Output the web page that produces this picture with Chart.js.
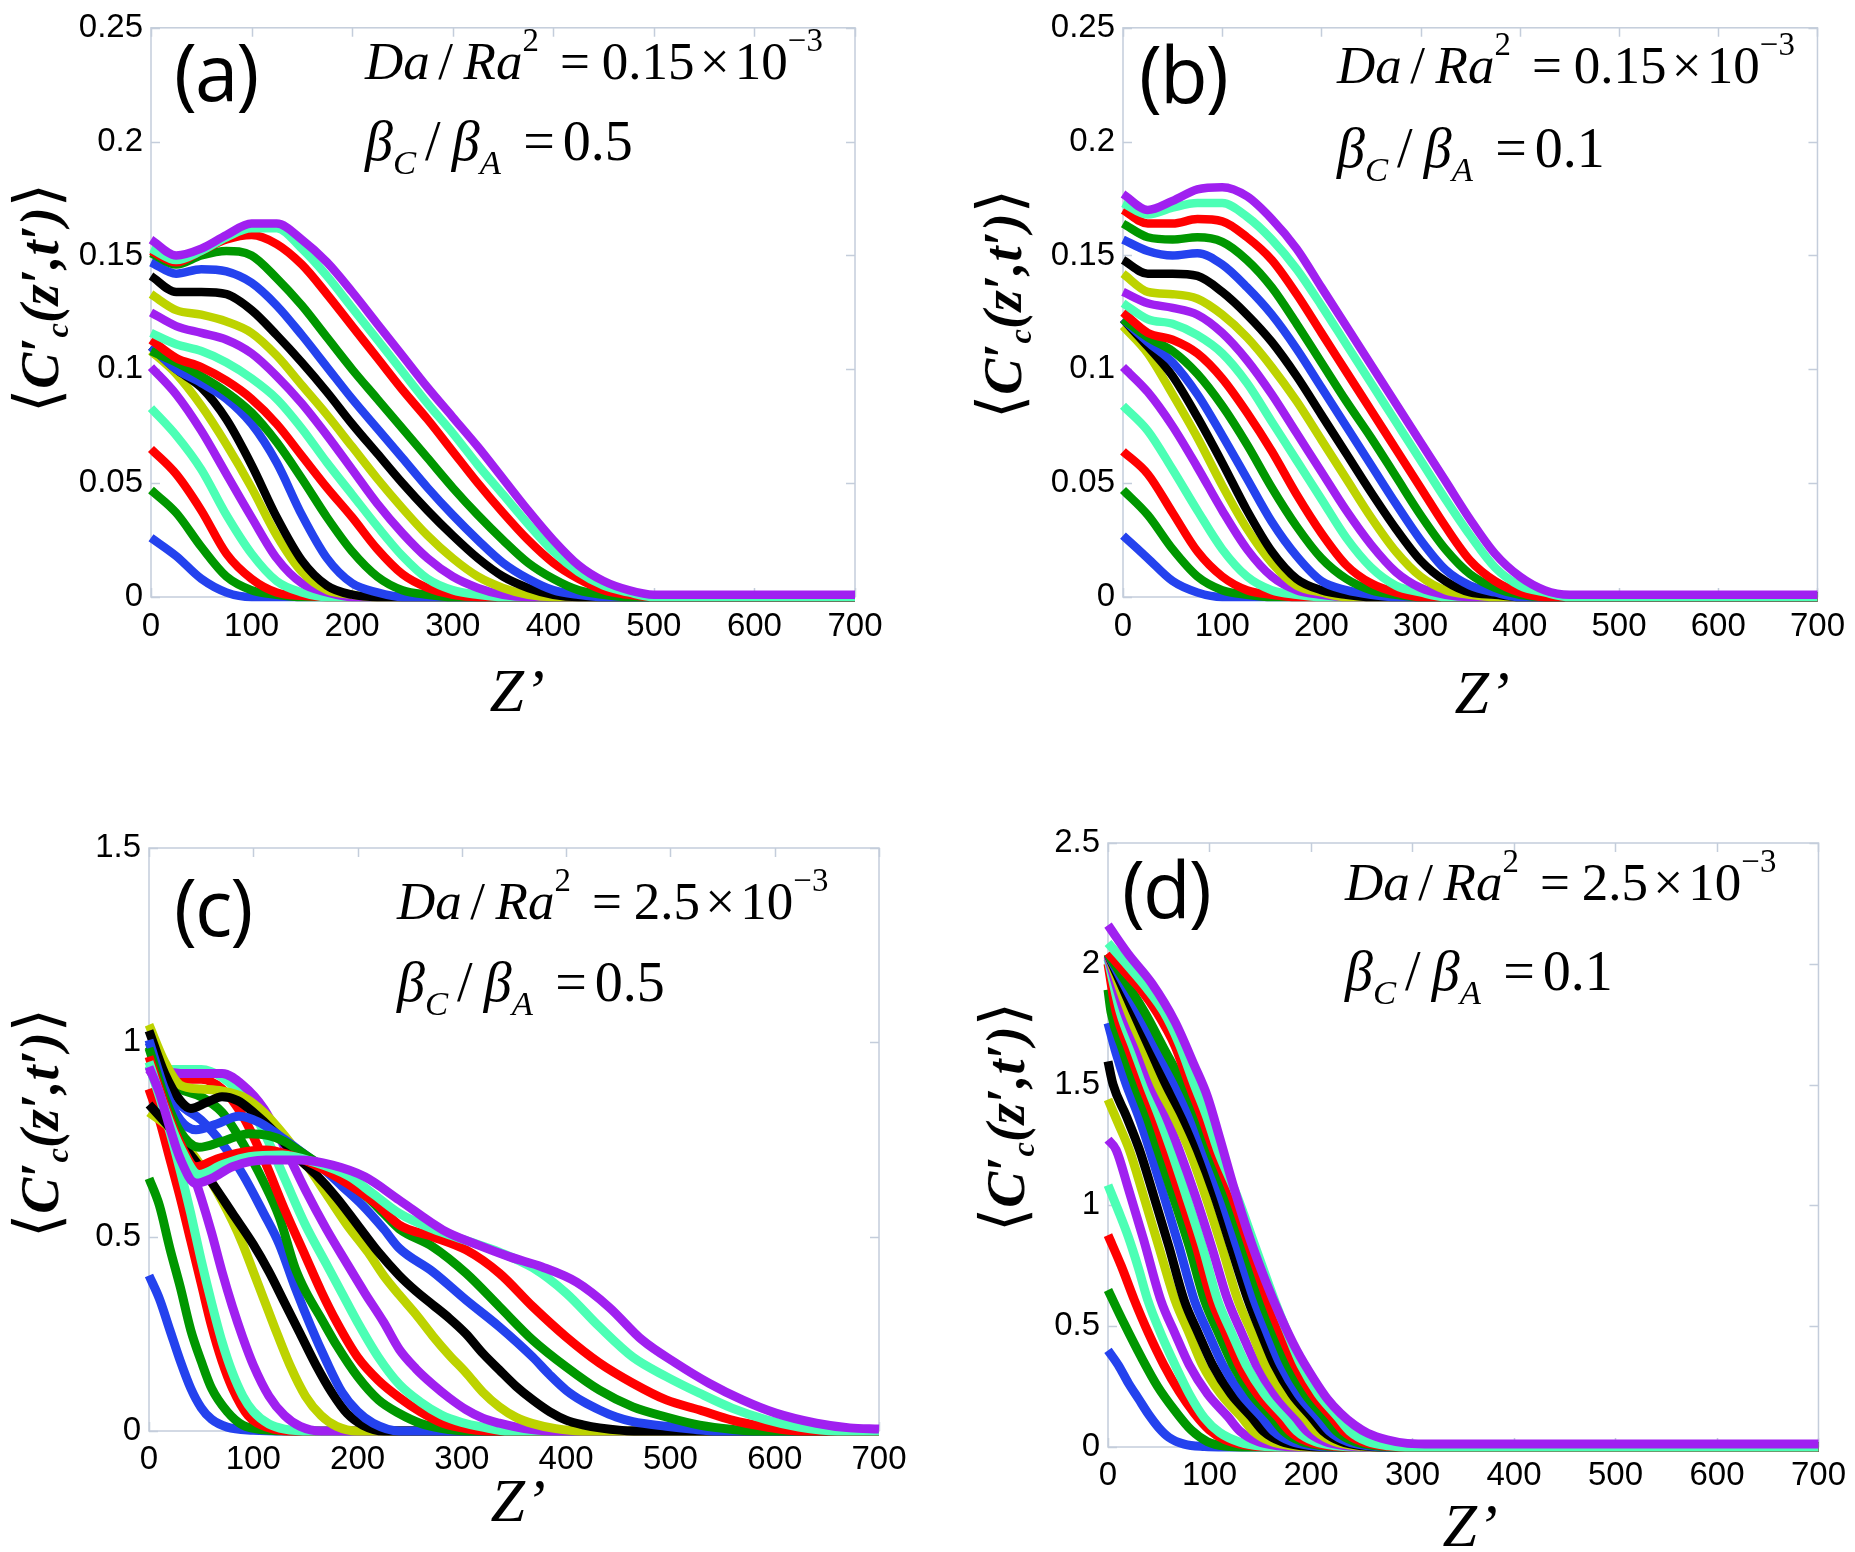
<!DOCTYPE html>
<html>
<head>
<meta charset="utf-8">
<script src="https://cdn.jsdelivr.net/npm/chart.js@4.4.1/dist/chart.umd.min.js"></script>
<style>
  body { margin: 0; background: #fff; }
  #page { position: relative; width: 1855px; height: 1552px; overflow: hidden; background: #fff; }
  canvas { position: absolute; }
  .tag { position: absolute; font-family: "Open Sans", sans-serif; font-size: 78px; line-height: 1; letter-spacing: -2px; white-space: nowrap; }
  .eq { position: absolute; font-family: "Liberation Serif", "Times New Roman", serif; line-height: 1; white-space: nowrap; }
  .eq.l1 { font-size: 53px; }
  .eq.l2 { font-size: 56px; }
  .eq sup { font-size: 0.62em; line-height: 0; vertical-align: 0.85em; }
  .eq sub { font-size: 0.62em; line-height: 0; vertical-align: -0.4em; }
  .eq .sl { margin: 0 0.2em 0 0.16em; }
  .eq .eqs { margin: 0 0.22em 0 0.4em; }
  .eq .eqs2 { margin: 0 0.14em 0 0.4em; }
  .eq .tm { margin: 0 0.1em; }
  .ytitle { position: absolute; width: 400px; text-align: center; font-family: "Liberation Serif", serif;
            font-weight: bold; font-style: italic; font-size: 54px; line-height: 1; white-space: nowrap;
            transform: translate(-50%, -50%) rotate(-90deg); }
  .ytitle sub { font-size: 0.6em; line-height: 0; vertical-align: -0.3em; }
  .ytitle .br { font-family: "DejaVu Sans", sans-serif; font-weight: normal; font-style: normal; font-size: 1.15em; }
  .xtitle { position: absolute; font-family: "Liberation Serif", serif; font-style: italic; font-size: 62px;
            line-height: 1; white-space: nowrap; transform: translate(-50%, -50%); }
</style>
</head>
<body>
<div id="page">
  <canvas id="ca" width="930" height="740" style="left:0;top:0"></canvas>
  <canvas id="cb" width="895" height="740" style="left:960px;top:0"></canvas>
  <canvas id="cc" width="930" height="772" style="left:0;top:780px"></canvas>
  <canvas id="cd" width="895" height="772" style="left:960px;top:780px"></canvas>

  <div class="tag" style="left:174px;top:32px">(a)</div>
  <div class="eq l1" style="left:365px;top:35px"><i>Da</i><span class="sl">/</span><i>Ra</i><sup>2</sup><span class="eqs">=</span>0.15<span class="tm">×</span>10<sup>−3</sup></div>
  <div class="eq l2" style="left:365px;top:113px"><i>β</i><sub><i>C</i></sub><span class="sl">/</span><i>β</i><sub><i>A</i></sub><span class="eqs2">=</span>0.5</div>
  <div class="ytitle" style="left:37px;top:298px"><span class="br">⟨</span>C′<sub>c</sub>(z′,t′)<span class="br">⟩</span></div>
  <div class="xtitle" style="left:517px;top:690px">Z’</div>

  <div class="tag" style="left:1139px;top:34px">(b)</div>
  <div class="eq l1" style="left:1337px;top:39px"><i>Da</i><span class="sl">/</span><i>Ra</i><sup>2</sup><span class="eqs">=</span>0.15<span class="tm">×</span>10<sup>−3</sup></div>
  <div class="eq l2" style="left:1337px;top:120px"><i>β</i><sub><i>C</i></sub><span class="sl">/</span><i>β</i><sub><i>A</i></sub><span class="eqs2">=</span>0.1</div>
  <div class="ytitle" style="left:1000px;top:304px"><span class="br">⟨</span>C′<sub>c</sub>(z′,t′)<span class="br">⟩</span></div>
  <div class="xtitle" style="left:1482px;top:692px">Z’</div>

  <div class="tag" style="left:174px;top:867px">(c)</div>
  <div class="eq l1" style="left:397px;top:875px"><i>Da</i><span class="sl">/</span><i>Ra</i><sup>2</sup><span class="eqs">=</span>2.5<span class="tm">×</span>10<sup>−3</sup></div>
  <div class="eq l2" style="left:397px;top:954px"><i>β</i><sub><i>C</i></sub><span class="sl">/</span><i>β</i><sub><i>A</i></sub><span class="eqs2">=</span>0.5</div>
  <div class="ytitle" style="left:37px;top:1123px"><span class="br">⟨</span>C′<sub>c</sub>(z′,t′)<span class="br">⟩</span></div>
  <div class="xtitle" style="left:518px;top:1500px">Z’</div>

  <div class="tag" style="left:1122px;top:849px">(d)</div>
  <div class="eq l1" style="left:1345px;top:856px"><i>Da</i><span class="sl">/</span><i>Ra</i><sup>2</sup><span class="eqs">=</span>2.5<span class="tm">×</span>10<sup>−3</sup></div>
  <div class="eq l2" style="left:1345px;top:943px"><i>β</i><sub><i>C</i></sub><span class="sl">/</span><i>β</i><sub><i>A</i></sub><span class="eqs2">=</span>0.1</div>
  <div class="ytitle" style="left:1003px;top:1117px"><span class="br">⟨</span>C′<sub>c</sub>(z′,t′)<span class="br">⟩</span></div>
  <div class="xtitle" style="left:1470px;top:1525px">Z’</div>
</div>

<script>
// axis ticks
const zTicks = [0, 100, 200, 300, 400, 500, 600, 700];
const yTicksAB = [0, 0.05, 0.1, 0.15, 0.2, 0.25];
const yTicksC = [0, 0.5, 1, 1.5];
const yTicksD = [0, 0.5, 1, 1.5, 2, 2.5];

// colour cycle of the 19 profiles (oldest first)
const lineColors = ["#2442ee", "#009700", "#ff0000", "#4cffb5", "#a020f0", "#bdd300", "#000000"];

// panels (a) and (b) are read on a common z' grid
const zGrid = [0, 25, 50, 75, 100, 125, 150, 175, 200, 225, 250, 275, 300, 325, 350, 375, 400, 425, 450, 475, 500, 700];

const curvesA = [
  [0.026,0.018,0.008,0.002,0,0,0,0,0,0,0,0,0,0,0,0,0,0,0,0,0,0],
  [0.047,0.037,0.022,0.009,0.003,0.001,0,0,0,0,0,0,0,0,0,0,0,0,0,0,0,0],
  [0.065,0.054,0.038,0.019,0.008,0.002,0.0005,0,0,0,0,0,0,0,0,0,0,0,0,0,0,0],
  [0.083,0.071,0.056,0.036,0.019,0.007,0.002,0,0,0,0,0,0,0,0,0,0,0,0,0,0,0],
  [0.101,0.089,0.073,0.054,0.035,0.017,0.006,0.002,0,0,0,0,0,0,0,0,0,0,0,0,0,0],
  [0.108,0.098,0.084,0.067,0.048,0.027,0.011,0.003,0.001,0,0,0,0,0,0,0,0,0,0,0,0,0],
  [0.110,0.100,0.092,0.078,0.058,0.035,0.016,0.005,0.001,0,0,0,0,0,0,0,0,0,0,0,0,0],
  [0.110,0.100,0.094,0.087,0.076,0.059,0.036,0.017,0.006,0.002,0,0,0,0,0,0,0,0,0,0,0,0],
  [0.108,0.103,0.097,0.090,0.081,0.068,0.052,0.035,0.020,0.009,0.003,0.001,0,0,0,0,0,0,0,0,0,0],
  [0.113,0.105,0.101,0.095,0.087,0.076,0.062,0.048,0.035,0.021,0.010,0.004,0.001,0,0,0,0,0,0,0,0,0],
  [0.116,0.111,0.108,0.103,0.096,0.087,0.074,0.059,0.045,0.031,0.018,0.008,0.003,0.001,0,0,0,0,0,0,0,0],
  [0.125,0.119,0.116,0.113,0.107,0.097,0.085,0.071,0.056,0.041,0.028,0.017,0.009,0.004,0.001,0,0,0,0,0,0,0],
  [0.133,0.126,0.124,0.121,0.116,0.106,0.093,0.080,0.066,0.052,0.039,0.027,0.017,0.009,0.004,0.001,0,0,0,0,0,0],
  [0.141,0.134,0.134,0.133,0.126,0.115,0.103,0.090,0.076,0.063,0.050,0.038,0.027,0.017,0.009,0.004,0.001,0,0,0,0,0],
  [0.147,0.142,0.144,0.143,0.138,0.128,0.115,0.101,0.087,0.074,0.061,0.048,0.036,0.025,0.015,0.008,0.003,0.001,0,0,0,0],
  [0.151,0.146,0.150,0.152,0.150,0.140,0.128,0.114,0.100,0.087,0.074,0.061,0.048,0.036,0.025,0.015,0.008,0.003,0.001,0,0,0],
  [0.152,0.147,0.152,0.157,0.159,0.155,0.146,0.133,0.119,0.105,0.091,0.078,0.064,0.050,0.037,0.025,0.015,0.008,0.003,0.001,0,0],
  [0.153,0.148,0.152,0.158,0.162,0.162,0.153,0.141,0.127,0.113,0.099,0.085,0.072,0.058,0.045,0.032,0.020,0.011,0.005,0.002,0,0],
  [0.157,0.150,0.153,0.159,0.164,0.164,0.157,0.147,0.134,0.120,0.106,0.092,0.079,0.066,0.052,0.038,0.025,0.014,0.007,0.003,0.001,0.001]
];

const curvesB = [
  [0.027,0.017,0.007,0.002,0,0,0,0,0,0,0,0,0,0,0,0,0,0,0,0,0,0],
  [0.047,0.036,0.021,0.009,0.003,0.001,0,0,0,0,0,0,0,0,0,0,0,0,0,0,0,0],
  [0.064,0.054,0.037,0.020,0.009,0.003,0.001,0,0,0,0,0,0,0,0,0,0,0,0,0,0,0],
  [0.084,0.073,0.056,0.038,0.021,0.009,0.003,0.001,0,0,0,0,0,0,0,0,0,0,0,0,0,0],
  [0.101,0.090,0.075,0.057,0.038,0.021,0.009,0.003,0.001,0,0,0,0,0,0,0,0,0,0,0,0,0],
  [0.119,0.107,0.089,0.070,0.049,0.030,0.015,0.005,0.002,0,0,0,0,0,0,0,0,0,0,0,0,0],
  [0.122,0.110,0.097,0.079,0.059,0.038,0.020,0.008,0.003,0.001,0,0,0,0,0,0,0,0,0,0,0,0],
  [0.122,0.112,0.103,0.089,0.071,0.052,0.033,0.018,0.007,0.003,0.001,0,0,0,0,0,0,0,0,0,0,0],
  [0.122,0.114,0.108,0.098,0.084,0.067,0.048,0.031,0.017,0.008,0.003,0.001,0,0,0,0,0,0,0,0,0,0],
  [0.125,0.116,0.113,0.107,0.096,0.081,0.064,0.045,0.028,0.014,0.006,0.002,0,0,0,0,0,0,0,0,0,0],
  [0.129,0.122,0.120,0.115,0.107,0.094,0.077,0.060,0.043,0.026,0.013,0.005,0.002,0,0,0,0,0,0,0,0,0],
  [0.134,0.129,0.127,0.124,0.116,0.104,0.089,0.072,0.055,0.038,0.023,0.011,0.004,0.001,0,0,0,0,0,0,0,0],
  [0.142,0.134,0.133,0.131,0.124,0.114,0.101,0.086,0.069,0.052,0.035,0.020,0.009,0.003,0.001,0,0,0,0,0,0,0],
  [0.148,0.142,0.142,0.141,0.134,0.124,0.112,0.097,0.080,0.063,0.046,0.030,0.016,0.007,0.002,0.001,0,0,0,0,0,0],
  [0.157,0.152,0.150,0.151,0.146,0.136,0.124,0.109,0.092,0.075,0.058,0.041,0.025,0.012,0.005,0.002,0,0,0,0,0,0],
  [0.164,0.158,0.157,0.158,0.156,0.148,0.136,0.120,0.103,0.086,0.070,0.053,0.036,0.021,0.010,0.004,0.001,0,0,0,0,0],
  [0.170,0.164,0.164,0.166,0.165,0.158,0.148,0.133,0.116,0.099,0.082,0.065,0.048,0.031,0.016,0.007,0.002,0,0,0,0,0],
  [0.173,0.168,0.171,0.173,0.173,0.167,0.157,0.144,0.128,0.111,0.094,0.077,0.060,0.043,0.027,0.013,0.005,0.002,0,0,0,0],
  [0.177,0.170,0.174,0.179,0.180,0.176,0.166,0.153,0.136,0.119,0.102,0.085,0.068,0.051,0.034,0.019,0.009,0.003,0.001,0.001,0.001,0.001]
];

// panels (c) and (d): [z', value] pairs per profile
const curvesC = [
  [[0,0.40],[10,0.34],[20,0.26],[30,0.18],[40,0.11],[50,0.06],[60,0.03],[75,0.01],[100,0.002],[130,0],[700,0]],
  [[0,0.65],[10,0.58],[20,0.47],[30,0.37],[40,0.26],[50,0.18],[60,0.11],[75,0.05],[90,0.015],[110,0.003],[140,0],[700,0]],
  [[0,0.88],[10,0.80],[20,0.70],[30,0.60],[40,0.49],[50,0.38],[60,0.27],[70,0.18],[80,0.11],[95,0.04],[115,0.008],[135,0],[700,0]],
  [[0,0.94],[10,0.86],[20,0.77],[30,0.67],[40,0.56],[50,0.44],[60,0.33],[70,0.23],[80,0.15],[90,0.09],[100,0.05],[115,0.018],[130,0.005],[155,0],[700,0]],
  [[0,0.93],[10,0.89],[20,0.83],[30,0.76],[40,0.68],[50,0.60],[60,0.51],[70,0.41],[80,0.32],[90,0.24],[100,0.17],[115,0.09],[130,0.04],[145,0.012],[165,0],[700,0]],
  [[0,0.82],[20,0.78],[40,0.72],[60,0.64],[80,0.54],[90,0.48],[100,0.41],[110,0.34],[120,0.27],[135,0.17],[150,0.09],[165,0.04],[180,0.012],[200,0],[700,0]],
  [[0,0.84],[20,0.78],[40,0.71],[60,0.64],[80,0.56],[100,0.48],[115,0.41],[130,0.33],[145,0.25],[160,0.17],[175,0.10],[190,0.045],[205,0.015],[225,0],[700,0]],
  [[0,1.0],[15,0.90],[30,0.84],[50,0.80],[70,0.74],[90,0.66],[110,0.56],[125,0.48],[140,0.37],[155,0.27],[170,0.18],[185,0.10],[200,0.05],[215,0.02],[240,0],[700,0]],
  [[0,0.99],[15,0.91],[30,0.88],[50,0.86],[70,0.82],[90,0.74],[110,0.64],[125,0.55],[140,0.42],[150,0.36],[165,0.29],[180,0.22],[200,0.14],[220,0.08],[240,0.045],[260,0.02],[280,0.007],[305,0],[700,0]],
  [[0,0.96],[15,0.92],[30,0.905],[50,0.905],[70,0.88],[90,0.81],[110,0.70],[130,0.57],[150,0.45],[165,0.36],[180,0.28],[200,0.19],[220,0.13],[240,0.086],[260,0.05],[280,0.022],[300,0.008],[325,0],[700,0]],
  [[0,0.95],[15,0.93],[30,0.93],[50,0.93],[70,0.91],[90,0.86],[110,0.77],[130,0.65],[150,0.53],[170,0.43],[185,0.355],[200,0.28],[220,0.19],[240,0.12],[260,0.075],[280,0.042],[300,0.022],[320,0.01],[345,0],[700,0]],
  [[0,0.93],[15,0.925],[30,0.92],[50,0.92],[70,0.92],[90,0.89],[110,0.83],[130,0.73],[150,0.62],[170,0.52],[190,0.43],[207,0.355],[225,0.28],[240,0.21],[256,0.16],[272,0.12],[288,0.085],[304,0.055],[320,0.033],[336,0.02],[360,0.006],[385,0],[700,0]],
  [[0,1.045],[15,0.95],[30,0.89],[50,0.88],[70,0.875],[90,0.86],[110,0.82],[130,0.76],[150,0.69],[170,0.61],[190,0.53],[210,0.46],[225,0.40],[240,0.35],[256,0.30],[272,0.245],[288,0.195],[304,0.15],[320,0.10],[336,0.062],[352,0.035],[368,0.019],[390,0.006],[415,0],[700,0]],
  [[0,1.03],[15,0.92],[30,0.85],[40,0.83],[55,0.845],[70,0.86],[85,0.85],[100,0.82],[120,0.77],[140,0.71],[160,0.66],[180,0.60],[200,0.53],[220,0.46],[240,0.40],[256,0.36],[272,0.325],[288,0.29],[304,0.25],[320,0.20],[336,0.157],[352,0.115],[368,0.08],[384,0.05],[400,0.028],[416,0.016],[432,0.008],[465,0],[700,0]],
  [[0,1.006],[15,0.88],[30,0.80],[45,0.775],[65,0.79],[86,0.81],[105,0.795],[125,0.76],[145,0.72],[165,0.68],[185,0.63],[205,0.58],[225,0.52],[240,0.47],[272,0.41],[304,0.337],[336,0.268],[368,0.19],[384,0.145],[400,0.105],[416,0.076],[432,0.054],[448,0.036],[464,0.024],[496,0.012],[520,0.005],[545,0],[700,0]],
  [[0,0.985],[15,0.86],[30,0.77],[48,0.73],[70,0.745],[96,0.765],[115,0.76],[130,0.745],[150,0.71],[170,0.675],[190,0.64],[210,0.60],[225,0.56],[240,0.52],[272,0.474],[304,0.406],[336,0.32],[368,0.234],[400,0.165],[432,0.105],[464,0.062],[496,0.036],[528,0.015],[560,0.004],[585,0],[700,0]],
  [[0,0.963],[15,0.84],[30,0.74],[45,0.68],[65,0.70],[85,0.715],[112,0.723],[135,0.71],[155,0.69],[176,0.66],[200,0.62],[220,0.58],[240,0.53],[272,0.50],[304,0.466],[336,0.406],[368,0.32],[400,0.242],[432,0.175],[464,0.123],[496,0.08],[528,0.054],[559,0.028],[591,0.011],[625,0],[700,0]],
  [[0,0.95],[15,0.83],[30,0.73],[48,0.66],[70,0.685],[96,0.706],[128,0.71],[160,0.69],[192,0.655],[215,0.61],[240,0.56],[272,0.52],[304,0.49],[336,0.46],[368,0.42],[400,0.355],[432,0.268],[464,0.19],[496,0.14],[528,0.097],[559,0.059],[592,0.029],[623,0.01],[660,0],[700,0]],
  [[0,0.937],[10,0.87],[20,0.78],[30,0.70],[45,0.637],[60,0.65],[80,0.68],[112,0.697],[144,0.697],[176,0.684],[207,0.654],[240,0.594],[282,0.517],[314,0.48],[346,0.448],[377,0.422],[410,0.383],[441,0.319],[473,0.234],[505,0.175],[537,0.123],[569,0.08],[601,0.046],[640,0.02],[672,0.008],[700,0.005]]
];

const curvesD = [
  [[0,0.40],[10,0.34],[20,0.265],[30,0.20],[40,0.135],[50,0.08],[60,0.04],[75,0.012],[95,0.002],[115,0],[700,0]],
  [[0,0.65],[16,0.51],[33,0.37],[49,0.25],[66,0.15],[82,0.07],[98,0.022],[115,0.004],[140,0],[700,0]],
  [[0,0.877],[13,0.75],[26,0.608],[40,0.47],[55,0.34],[70,0.23],[85,0.14],[100,0.07],[115,0.03],[135,0.008],[160,0],[700,0]],
  [[0,1.084],[10,0.98],[20,0.87],[30,0.74],[39,0.61],[52,0.47],[66,0.34],[80,0.22],[95,0.12],[110,0.06],[130,0.02],[150,0.004],[175,0],[700,0]],
  [[0,1.272],[8,1.23],[20,1.07],[35,0.86],[52,0.608],[66,0.47],[80,0.34],[98,0.22],[118,0.126],[130,0.066],[148,0.022],[168,0.005],[190,0],[700,0]],
  [[0,1.438],[10,1.34],[21,1.23],[35,1.04],[50,0.83],[66,0.608],[80,0.47],[93,0.34],[111,0.22],[131,0.126],[143,0.066],[161,0.022],[181,0.005],[205,0],[700,0]],
  [[0,1.596],[5,1.50],[18,1.37],[31,1.23],[45,1.04],[60,0.83],[75,0.608],[89,0.47],[103,0.34],[121,0.22],[141,0.126],[153,0.066],[171,0.022],[191,0.005],[215,0],[700,0]],
  [[0,1.755],[8,1.63],[18,1.50],[30,1.37],[41,1.23],[55,1.04],[70,0.83],[85,0.608],[99,0.47],[113,0.34],[131,0.22],[151,0.126],[163,0.066],[181,0.022],[201,0.005],[225,0],[700,0]],
  [[0,1.893],[3,1.80],[14,1.65],[26,1.50],[38,1.37],[49,1.23],[64,1.04],[80,0.83],[95,0.608],[109,0.47],[123,0.34],[141,0.22],[161,0.126],[173,0.066],[191,0.022],[211,0.005],[235,0],[700,0]],
  [[0,2.0],[8,1.80],[20,1.65],[33,1.50],[45,1.37],[56,1.23],[71,1.04],[87,0.83],[102,0.608],[116,0.47],[129,0.34],[147,0.22],[167,0.126],[179,0.066],[197,0.022],[217,0.005],[240,0],[700,0]],
  [[0,2.02],[12,1.80],[25,1.65],[38,1.50],[50,1.37],[62,1.23],[77,1.04],[93,0.83],[108,0.608],[122,0.47],[136,0.34],[154,0.22],[174,0.126],[186,0.066],[204,0.022],[224,0.005],[250,0],[700,0]],
  [[0,2.03],[16,1.80],[30,1.65],[43,1.50],[57,1.37],[70,1.23],[86,1.04],[102,0.83],[118,0.608],[132,0.47],[146,0.34],[164,0.22],[184,0.126],[196,0.066],[214,0.022],[234,0.005],[260,0],[700,0]],
  [[0,2.04],[20,1.80],[35,1.65],[49,1.50],[65,1.37],[80,1.23],[96,1.04],[112,0.83],[128,0.608],[142,0.47],[155,0.34],[173,0.22],[193,0.126],[205,0.066],[223,0.022],[243,0.005],[270,0],[700,0]],
  [[0,2.04],[25,1.80],[41,1.65],[57,1.50],[73,1.37],[88,1.23],[105,1.04],[121,0.83],[138,0.608],[151,0.47],[164,0.34],[181,0.22],[200,0.126],[212,0.066],[230,0.022],[250,0.005],[275,0],[700,0]],
  [[0,2.04],[30,1.80],[48,1.65],[66,1.50],[81,1.37],[95,1.23],[111,1.04],[127,0.83],[144,0.608],[157,0.47],[170,0.34],[187,0.22],[206,0.126],[218,0.066],[236,0.022],[256,0.005],[280,0],[700,0]],
  [[0,2.04],[36,1.80],[55,1.65],[74,1.50],[88,1.37],[100,1.23],[117,1.04],[134,0.83],[151,0.608],[164,0.47],[177,0.34],[194,0.22],[213,0.126],[225,0.066],[243,0.022],[263,0.005],[290,0],[700,0]],
  [[0,2.045],[20,1.95],[33,1.89],[48,1.80],[66,1.66],[80,1.50],[92,1.37],[104,1.23],[122,1.04],[139,0.83],[157,0.608],[170,0.47],[184,0.34],[201,0.22],[220,0.126],[232,0.066],[250,0.022],[270,0.005],[295,0],[700,0]],
  [[0,2.086],[20,1.99],[38,1.90],[55,1.80],[70,1.67],[85,1.50],[97,1.37],[108,1.23],[127,1.04],[145,0.83],[164,0.608],[177,0.47],[190,0.34],[207,0.22],[226,0.126],[238,0.066],[256,0.022],[276,0.005],[300,0],[700,0]],
  [[0,2.16],[20,2.04],[43,1.92],[66,1.76],[85,1.58],[98,1.45],[110,1.28],[125,1.06],[140,0.86],[155,0.69],[170,0.54],[186,0.40],[203,0.28],[216,0.20],[229,0.14],[243,0.09],[256,0.057],[275,0.03],[295,0.015],[320,0.012],[700,0.012]]
];

const tickFont = { family: "'Liberation Sans', Arial, sans-serif", size: 33 };

// light axis box with inward tick marks, drawn under the curves
const boxPlugin = {
  id: "box",
  beforeDatasetsDraw(chart) {
    const { ctx, chartArea: a, scales: { x, y } } = chart;
    ctx.save();
    ctx.strokeStyle = "#c4cddb";
    ctx.lineWidth = 1.5;
    ctx.strokeRect(a.left, a.top, a.right - a.left, a.bottom - a.top);
    ctx.beginPath();
    x.ticks.forEach(t => {
      const px = Math.round(x.getPixelForValue(t.value)) + 0.5;
      ctx.moveTo(px, a.top); ctx.lineTo(px, a.top + 9);
      ctx.moveTo(px, a.bottom); ctx.lineTo(px, a.bottom - 9);
    });
    y.ticks.forEach(t => {
      const py = Math.round(y.getPixelForValue(t.value)) + 0.5;
      ctx.moveTo(a.left, py); ctx.lineTo(a.left + 9, py);
      ctx.moveTo(a.right, py); ctx.lineTo(a.right - 9, py);
    });
    ctx.stroke();
    ctx.restore();
  }
};

function makeChart(id, series, yTicks, box) {
  new Chart(document.getElementById(id), {
    type: "line",
    data: {
      datasets: series.map((pts, i) => ({
        data: pts.map(p => ({ x: p[0], y: p[1] })),
        borderColor: lineColors[i % lineColors.length],
        borderWidth: box.lw,
        pointRadius: 0,
        cubicInterpolationMode: "monotone",
        borderJoinStyle: "round",
        clip: false,
        order: series.length - i
      }))
    },
    options: {
      responsive: false,
      animation: false,
      events: [],
      layout: { padding: { top: box.top, right: box.right, left: 0, bottom: 0 } },
      plugins: { legend: { display: false }, tooltip: { enabled: false } },
      scales: {
        x: {
          type: "linear", min: 0, max: 700,
          grid: { display: false, drawTicks: false },
          border: { display: false },
          afterBuildTicks: s => { s.ticks = zTicks.map(v => ({ value: v })); },
          afterFit: s => { s.height = box.xh; },
          ticks: { padding: box.xpad, color: "#000", font: tickFont, maxRotation: 0, autoSkip: false,
                   callback: v => String(v) }
        },
        y: {
          type: "linear", min: 0, max: yTicks[yTicks.length - 1],
          grid: { display: false, drawTicks: false },
          border: { display: false },
          afterBuildTicks: s => { s.ticks = yTicks.map(v => ({ value: v })); },
          afterFit: s => { s.width = box.yw; },
          ticks: { padding: 8, color: "#000", font: tickFont, autoSkip: false, callback: v => String(v) }
        }
      }
    },
    plugins: [boxPlugin]
  });
}

const onGrid = rows => rows.map(vals => vals.map((v, k) => [zGrid[k], v]));

makeChart("ca", onGrid(curvesA), yTicksAB, { top: 16, right: 75, yw: 151, xh: 143, xpad: 10, lw: 8.5 });
makeChart("cb", onGrid(curvesB), yTicksAB, { top: 16, right: 30, yw: 163, xh: 143, xpad: 10, lw: 8.5 });
makeChart("cc", curvesC, yTicksC, { top: 68, right: 51, yw: 149, xh: 121, xpad: 9, lw: 9 });
makeChart("cd", curvesD, yTicksD, { top: 63, right: 35, yw: 148, xh: 105, xpad: 9, lw: 9 });
</script>
</body>
</html>
